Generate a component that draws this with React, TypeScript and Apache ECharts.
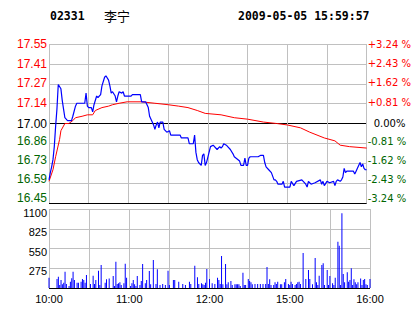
import React, { useEffect, useRef } from 'react';
import * as echarts from 'echarts';

const STOCK_CODE = '02331';
const STOCK_NAME = '李宁';
const TIMESTAMP = '2009-05-05 15:59:57';

const AXIS_BASE = 16.45;
const AXIS_STEP = 0.1375;

const priceTickLabels = ['16.45', '16.59', '16.73', '16.86', '17.00', '17.14', '17.27', '17.41', '17.55'];
const pctTickLabels = ['-3.24 %', '-2.43 %', '-1.62 %', '-0.81 %', '0.00%', '+0.81 %', '+1.62 %', '+2.43 %', '+3.24 %'];
const volTickLabels = ['', '275', '550', '825', '1100'];
const timeTickLabels = ['10:00', '', '11:00', '', '12:00', '', '15:00', '', '16:00'];

// minutes since 10:00 (trading minutes, lunch break removed)
const priceMinutes = [
  0, 1, 2, 3, 4, 5, 6, 7, 9, 10, 11, 12, 14, 17, 18, 20, 21, 27, 28, 29, 30, 32, 33, 34, 36, 37, 39, 40,
  42, 43, 45, 46, 47, 48, 50, 51, 52, 53, 55, 56, 57, 62, 63, 69, 70, 73, 75, 76, 78, 79, 80, 81, 82, 83,
  84, 86, 87, 89, 91, 92, 99, 100, 105, 106, 109, 110, 111, 112, 113, 115, 116, 117, 118, 119, 122, 124,
  127, 129, 130, 131, 132, 134, 135, 137, 139, 140, 144, 145, 147, 148, 149, 150, 151, 152, 158, 160, 162,
  163, 164, 166, 168, 170, 171, 172, 173, 176, 177, 178, 180, 182, 183, 185, 187, 191, 194, 195, 196, 198,
  201, 205, 206, 207, 208, 210, 212, 215, 216, 217, 218, 220, 221, 222, 223, 224, 225, 229, 230, 231, 232,
  233, 235, 236, 237, 238, 239, 240,
];
const priceValues = [
  16.61, 16.66, 16.70, 16.75, 16.84, 16.98, 17.10, 17.27, 17.24, 17.16, 17.10, 17.04, 17.02, 17.02, 17.05,
  17.12, 17.14, 17.14, 17.21, 17.12, 17.11, 17.11, 17.08, 17.13, 17.19, 17.18, 17.20, 17.26,
  17.32, 17.33, 17.30, 17.26, 17.21, 17.22, 17.19, 17.15, 17.19, 17.22, 17.21, 17.22, 17.19, 17.19, 17.20,
  17.20, 17.15, 17.15, 17.11, 17.05, 17.01, 16.99, 16.96, 16.99, 17.01, 16.97,
  17.01, 17.01, 16.96, 16.94, 16.95, 16.92, 16.92, 16.90, 16.90, 16.86, 16.86, 16.92, 16.80, 16.75, 16.73,
  16.71, 16.78, 16.79, 16.71, 16.73, 16.84, 16.85,
  16.82, 16.84, 16.83, 16.84, 16.86, 16.85, 16.84, 16.82, 16.79, 16.77, 16.74, 16.71, 16.71, 16.76, 16.71,
  16.71, 16.76, 16.77, 16.77, 16.78, 16.78,
  16.73, 16.70, 16.68, 16.66, 16.61, 16.61, 16.60, 16.58, 16.58, 16.60, 16.56, 16.56, 16.56, 16.60, 16.57,
  16.60, 16.61, 16.58, 16.56, 16.60, 16.58,
  16.59, 16.61, 16.58, 16.60, 16.57, 16.60, 16.59, 16.60, 16.57, 16.60, 16.61, 16.60, 16.61, 16.63, 16.69,
  16.66, 16.67, 16.67, 16.67, 16.65, 16.67,
  16.69, 16.73, 16.70, 16.72, 16.69, 16.68, 16.68,
];

const avgMinutes = [
  0, 3, 5, 8, 9, 12, 15, 18, 20, 25, 29, 33, 35, 40, 45, 48, 53, 59, 70, 80, 90, 98, 105, 112, 118, 130,
  140, 150, 162, 172, 180, 190, 197, 208, 216, 220, 227, 240,
];
const avgValues = [
  16.60, 16.68, 16.77, 16.89, 16.95, 17.00, 17.00, 17.02, 17.04, 17.05, 17.06, 17.06, 17.09, 17.11, 17.12,
  17.13, 17.14, 17.15, 17.15, 17.14, 17.13, 17.12, 17.11, 17.09, 17.07, 17.06,
  17.04, 17.03, 17.01, 17.00, 16.99, 16.97, 16.94, 16.90, 16.88, 16.85, 16.84, 16.83,
];

const volMinutes = [
  0, 6, 7, 8, 9, 10, 11, 12, 13, 15, 16, 17, 18, 19, 21, 22, 24, 25, 26, 27, 28, 31, 33, 34, 35, 37, 38, 39,
  42, 43, 45, 48, 49, 50, 51, 52, 53, 54, 56, 57, 58, 61, 62, 63, 64, 65, 66, 68, 69, 70, 72, 73, 75, 76,
  78, 80, 81, 83, 85, 87, 89, 90, 93, 94, 97, 100, 102, 105, 106, 109, 111, 112, 114, 115, 116, 117, 118,
  120, 122, 124, 126, 127, 128, 129, 130, 132, 133, 134, 136, 137, 139, 140, 141, 142, 143, 145, 146, 147,
  149, 150, 151, 152, 154, 156, 158, 160, 162, 163, 164, 165, 166, 168, 169, 170, 171, 173, 174, 176, 177,
  179, 180, 181, 182, 184, 185, 186, 187, 188, 190, 192, 194, 195, 197, 199, 200, 201, 202, 204, 205, 206,
  208, 209, 210, 212, 213, 214, 216, 217, 218, 219, 220, 221, 223, 224, 225, 226, 227, 228, 229, 230, 231,
  233, 234, 235, 236, 237, 238, 240,
];
const volValues = [
  143, 125, 157, 42, 111, 51, 74, 227, 56, 28, 88, 135, 227, 111, 74, 74, 88, 125, 111, 74, 181, 56, 171, 56,
  111, 241, 42, 320,
  74, 121, 134, 167, 28, 367, 56, 65, 79, 42, 65, 339, 144, 28, 65, 111, 51, 28, 167, 42, 97, 334, 65, 111,
  236, 51,
  390, 56, 260, 42, 56, 42, 241, 42, 111, 111, 88, 56, 42, 88, 56, 311, 148, 56, 65, 51, 42, 74, 264,
  125, 65, 56, 144, 111, 56, 445, 51, 334, 51, 79, 97, 42, 51, 51, 51, 51, 28, 213, 42, 42,
  125, 97, 79, 51, 56, 56, 56, 56, 56, 292, 56, 121, 42, 42, 79, 56, 88, 51, 51, 79, 125,
  56, 42, 88, 56, 42, 56, 79, 88, 56, 487, 125, 251, 125, 51, 418, 79, 42, 172, 320, 343, 42,
  251, 42, 167, 65, 42, 144, 645, 589, 42, 1040, 195, 79, 218, 88, 111, 274, 42, 121, 79, 51, 79,
  134, 42, 111, 125, 51, 42, 125,
];

const RED = '#ff0000';
const GREEN = '#006600';
const BLUE = '#0000ff';
const GRID = '#c0c0c0';

// upward shift (px) of each price-axis label, bottom to top
const LABEL_LIFT = [5, 4, 3, 2, 0, 1, 1, 0, 0];
// downward shift (px) of each volume-axis label, bottom to top
const VOL_DROP = [0, 3, 3, 3, 4];

export default function App() {
  const ref = useRef<HTMLDivElement>(null);

  useEffect(() => {
    if (!ref.current) return;
    const chart = echarts.init(ref.current, undefined, { renderer: 'svg' });
    const tickIndex = (v: any) => Math.round(Number(v) / AXIS_STEP);
    const colorOf = (k: number) => (k > 4 ? RED : k < 4 ? GREEN : '#000');

    const leftRich: any = {};
    const rightRich: any = {};
    for (let k = 0; k < 9; k++) {
      const d = LABEL_LIFT[k];
      leftRich['p' + k] = {
        color: colorOf(k), fontSize: 12, lineHeight: 12, fontFamily: '"Liberation Sans", Arial, sans-serif',
        padding: [-d, 0, d, 0],
      };
      rightRich['r' + k] = {
        color: colorOf(k), fontSize: 10, lineHeight: 11, fontFamily: '"DejaVu Sans", sans-serif',
        padding: [-d, 0, d, k === 4 ? 6 : 0],
      };
    }
    const volRich: any = {};
    for (let k = 0; k < 5; k++) {
      const d = VOL_DROP[k];
      volRich['v' + k] = {
        color: '#000', fontSize: 11, lineHeight: 11, fontFamily: '"Liberation Sans", Arial, sans-serif',
        padding: [d, 0, -d, 0],
      };
    }

    const option: any = {
      animation: false,
      backgroundColor: '#ffffff',
      graphic: [
        {
          type: 'text', left: 50, top: 10,
          style: { text: STOCK_CODE, font: 'bold 11.5px "DejaVu Sans Mono", monospace', fill: '#000' },
        },
        {
          type: 'text', left: 104, top: 9,
          style: { text: STOCK_NAME, font: '13px "Noto Sans CJK SC", sans-serif', fill: '#000' },
        },
        {
          type: 'text', left: 238, top: 10,
          style: { text: TIMESTAMP, font: 'bold 11.5px "DejaVu Sans Mono", monospace', fill: '#000' },
        },
      ],
      grid: [
        { left: 49, top: 44, width: 321, height: 159 },
        { left: 49, top: 209, width: 321, height: 79 },
      ],
      xAxis: [
        {
          type: 'value', gridIndex: 0, min: 0, max: 240, interval: 30,
          axisLine: { show: false }, axisTick: { show: false }, axisLabel: { show: false },
          splitLine: { show: true, lineStyle: { color: GRID, width: 1 } },
        },
        {
          type: 'value', gridIndex: 1, min: 0, max: 240, interval: 30,
          axisLine: { show: false }, axisTick: { show: false },
          axisLabel: {
            show: true, margin: 5, fontSize: 11, color: '#000',
            showMinLabel: true, showMaxLabel: true,
            fontFamily: '"Liberation Sans", Arial, sans-serif',
            formatter: (v: number) => timeTickLabels[Math.round(v / 30)] || '',
          },
          splitLine: { show: true, lineStyle: { color: GRID, width: 1 } },
        },
      ],
      yAxis: [
        {
          type: 'value', gridIndex: 0, min: 0, max: 8 * AXIS_STEP, interval: AXIS_STEP,
          axisLine: { show: false }, axisTick: { show: false },
          axisLabel: {
            margin: 2, fontSize: 12, fontFamily: '"Liberation Sans", Arial, sans-serif',
            showMinLabel: true, showMaxLabel: true, hideOverlap: false,
            formatter: (v: number) => {
              const k = tickIndex(v);
              return `{p${k}|${priceTickLabels[k] || ''}}`;
            },
            rich: leftRich,
          },
          splitLine: {
            show: true,
            lineStyle: { color: ['#000', GRID, GRID, GRID, '#000', GRID, GRID, GRID, GRID], width: 1 },
          },
        },
        {
          type: 'value', gridIndex: 0, position: 'right', min: 0, max: 8 * AXIS_STEP, interval: AXIS_STEP,
          axisLine: { show: false }, axisTick: { show: false }, splitLine: { show: false },
          axisLabel: {
            margin: 1, fontSize: 10, fontFamily: '"DejaVu Sans", sans-serif',
            showMinLabel: true, showMaxLabel: true, hideOverlap: false,
            formatter: (v: number) => {
              const k = tickIndex(v);
              return `{r${k}|${pctTickLabels[k] || ''}}`;
            },
            rich: rightRich,
          },
        },
        {
          type: 'value', gridIndex: 1, min: 0, max: 1100, interval: 275,
          axisLine: { show: false }, axisTick: { show: false },
          axisLabel: {
            margin: 2, fontSize: 11, color: '#000', fontFamily: '"Liberation Sans", Arial, sans-serif',
            showMinLabel: true, showMaxLabel: true, hideOverlap: false,
            formatter: (v: number) => {
              const k = Math.round(v / 275);
              const t = volTickLabels[k] || '';
              return t ? `{v${k}|${t}}` : '';
            },
            rich: volRich,
          },
          splitLine: { show: true, lineStyle: { color: ['#000', GRID, GRID, GRID, GRID], width: 1 } },
        },
      ],
      series: [
        {
          type: 'line', xAxisIndex: 0, yAxisIndex: 0, symbol: 'none', silent: true,
          data: avgMinutes.map((m, i) => [m, avgValues[i] - AXIS_BASE]),
          lineStyle: { color: RED, width: 1 },
        },
        {
          type: 'line', xAxisIndex: 0, yAxisIndex: 0, symbol: 'none', silent: true,
          data: priceMinutes.map((m, i) => [m, priceValues[i] - AXIS_BASE]),
          lineStyle: { color: BLUE, width: 1.2 },
        },
        {
          type: 'bar', xAxisIndex: 1, yAxisIndex: 2, silent: true, barWidth: 1,
          data: volMinutes.map((m, i) => [m, volValues[i]]),
          itemStyle: { color: BLUE },
        },
      ],
    };
    chart.setOption(option);
    return () => chart.dispose();
  }, []);

  return (
    <div
      ref={ref}
      style={{ position: 'absolute', left: 0, top: 0, width: 414, height: 314, background: '#fff' }}
    />
  );
}
